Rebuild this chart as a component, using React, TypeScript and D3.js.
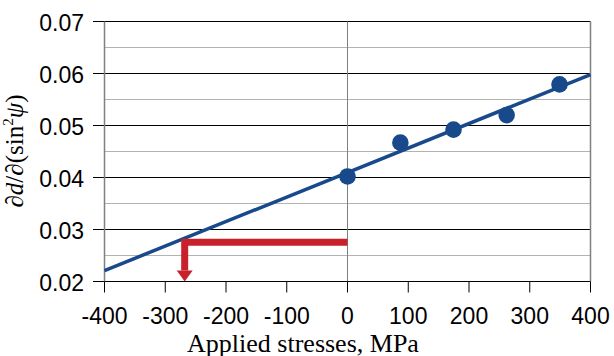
import React from "react";
import * as d3 from "d3";

const stresses = [0, 87, 174.5, 262, 349];
const slopes = [0.0402, 0.0467, 0.0492, 0.052, 0.0579];
const fitLine = [
  { x: -400, y: 0.0221 },
  { x: 400, y: 0.0598 },
];
const arrowPath = [
  { x: 0, y: 0.02757 },
  { x: -268, y: 0.02757 },
  { x: -268, y: 0.0221 },
];
const arrowTip = { x: -268, y: 0.02 };
const xTicks = [-400, -300, -200, -100, 0, 100, 200, 300, 400];
const yMajor = [0.02, 0.03, 0.04, 0.05, 0.06, 0.07];
const yMinor = [0.025, 0.035, 0.045, 0.055, 0.065];
const yTickLabels = ["0.02", "0.03", "0.04", "0.05", "0.06", "0.07"];

export default function App() {
  const W = 614,
    H = 356;
  const x = d3.scaleLinear().domain([-400, 400]).range([104.5, 590.5]);
  const y = d3.scaleLinear().domain([0.02, 0.07]).range([281.5, 21.5]);
  const line = d3
    .line<{ x: number; y: number }>()
    .x((d) => x(d.x))
    .y((d) => y(d.y));
  const blue = "#184a8b";
  const red = "#c9212b";
  const tipX = x(arrowTip.x);
  const tipY = y(arrowTip.y);
  const baseY = y(arrowPath[2].y);
  return (
    <svg
      width={W}
      height={H}
      style={{ position: "absolute", left: 0, top: 0, background: "#fff" }}
    >
      {yMinor.map((v) => (
        <line key={"m" + v} x1={x(-400)} x2={x(400)} y1={y(v)} y2={y(v)} stroke="#b3b3b3" strokeWidth={1} />
      ))}
      {yMajor.map((v) => (
        <line key={"M" + v} x1={93} x2={x(400)} y1={y(v)} y2={y(v)} stroke="#000" strokeWidth={1} />
      ))}
      <line x1={x(-400)} x2={x(-400)} y1={y(0.07)} y2={y(0.02)} stroke="#808080" strokeWidth={1.5} />
      <line x1={x(0)} x2={x(0)} y1={y(0.07)} y2={y(0.02)} stroke="#808080" strokeWidth={1} />
      <line x1={x(400)} x2={x(400)} y1={y(0.07)} y2={y(0.02)} stroke="#808080" strokeWidth={1.5} />
      {xTicks.map((t) => (
        <line key={"t" + t} x1={x(t)} x2={x(t)} y1={y(0.02)} y2={y(0.02) + 11} stroke="#000" strokeWidth={1} />
      ))}
      {xTicks.map((t) => (
        <text key={"l" + t} x={x(t)} y={324} textAnchor="middle" fontFamily="Liberation Sans, Arial, sans-serif" fontSize={23} fill="#000">
          {t}
        </text>
      ))}
      {yMajor.map((v, i) => (
        <text key={"yl" + v} x={84} y={y(v) + 9.5} textAnchor="end" fontFamily="Liberation Sans, Arial, sans-serif" fontSize={23} fill="#000">
          {yTickLabels[i]}
        </text>
      ))}
      <path d={line(fitLine) || ""} fill="none" stroke={blue} strokeWidth={3.5} />
      {stresses.map((s, i) => (
        <circle key={"c" + i} cx={x(s)} cy={y(slopes[i])} r={8.3} fill={blue} />
      ))}
      <path d={line(arrowPath) || ""} fill="none" stroke={red} strokeWidth={7} strokeLinejoin="miter" strokeLinecap="butt" />
      <polygon
        points={`${tipX - 8},${baseY} ${tipX + 8},${baseY} ${tipX},${tipY}`}
        fill={red}
      />
      <text x={303} y={351.5} textAnchor="middle" fontFamily="Liberation Serif, Times New Roman, serif" fontSize={26} fill="#000">
        Applied stresses, MPa
      </text>
      <text
        transform={`translate(23,151) rotate(-90)`}
        textAnchor="middle"
        fontFamily="Liberation Serif, Times New Roman, serif"
        fontSize={25}
        fill="#000"
      >
        ∂<tspan fontStyle="italic">d</tspan>/∂(sin
        <tspan fontSize={15} dy={-10}>2</tspan>
        <tspan dy={10} fontStyle="italic">ψ</tspan>)
      </text>
    </svg>
  );
}
